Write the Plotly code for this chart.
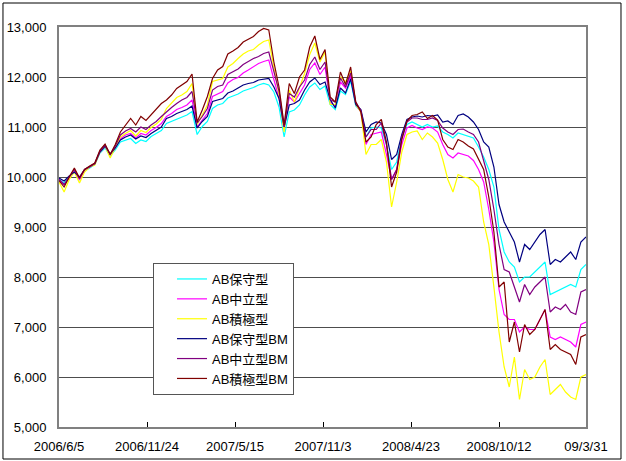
import pandas as pd
import plotly.graph_objects as go

# 10-day sampling dates, 2006/6/5 .. 2009/3/31
dates = pd.date_range("2006-06-05", periods=104, freq="10D")

tick_dates = ["2006-06-05", "2006-11-24", "2007-05-15", "2007-11-03",
              "2008-04-23", "2008-10-12", "2009-03-31"]
tick_labels = ["2006/6/5", "2006/11/24", "2007/5/15", "2007/11/3",
               "2008/4/23", "2008/10/12", "09/3/31"]
y_ticks = [5000, 6000, 7000, 8000, 9000, 10000, 11000, 12000, 13000]

names = ["AB保守型", "AB中立型", "AB積極型", "AB保守型BM", "AB中立型BM", "AB積極型BM"]
colors = ["#00FFFF", "#FF00FF", "#FFFF00", "#000080", "#800080", "#800000"]

ab_hoshu = [9950, 9880, 10000, 10100, 9950, 10120, 10180, 10250, 10480, 10580,
            10420, 10540, 10700, 10740, 10770, 10670, 10740, 10710, 10810, 10870,
            10930, 11070, 11110, 11150, 11190, 11240, 11310, 10850, 11010, 11110,
            11370, 11440, 11470, 11580, 11620, 11660, 11720, 11750, 11790, 11840,
            11870, 11840, 11700, 11400, 10800, 11300, 11340, 11440, 11640, 11800,
            11880, 11750, 11820, 11450, 11350, 11720, 11650, 11920, 11420, 11320,
            10800, 10980, 11000, 10980, 10650, 10150, 10300, 10780, 11050, 11100,
            11050, 11000, 11050, 11000, 11020, 10900, 10850, 10780, 10880, 10850,
            10820, 10780, 10600, 10400, 10150, 9800, 8950, 8500, 8300, 8200,
            7900, 8000, 8000, 8100, 8200, 8300, 7650, 7700, 7750, 7800,
            7850, 7800, 8150, 8250]
ab_churitsu = [9950, 9850, 9980, 10120, 9940, 10130, 10200, 10260, 10500, 10610,
               10440, 10580, 10760, 10840, 10870, 10780, 10870, 10840, 10930, 10990,
               11070, 11210, 11270, 11350, 11390, 11440, 11540, 11000, 11140, 11270,
               11610, 11660, 11710, 11880, 11950, 11990, 12080, 12140, 12200, 12270,
               12310, 12340, 11950, 11580, 10950, 11600, 11500, 11670, 11840, 12150,
               12280, 12050, 12200, 11500, 11420, 11900, 11780, 12020, 11450, 11300,
               10650, 10850, 10880, 10900, 10450, 9950, 10150, 10650, 10980, 11030,
               10980, 10950, 11000, 10980, 10900, 10650, 10450, 10380, 10480, 10450,
               10420, 10330, 10150, 9900, 9350, 8700, 7750, 7250, 7150, 7150,
               6900, 7000, 6950, 6950, 7150, 7350, 6800, 6750, 6800, 6750,
               6700, 6600, 7050, 7100]
ab_sekkyoku = [9900, 9700, 9950, 10100, 9880, 10100, 10200, 10240, 10500, 10620,
               10380, 10600, 10800, 10870, 10930, 10820, 10930, 10890, 10990, 11060,
               11150, 11370, 11470, 11590, 11640, 11710, 11870, 11050, 11240, 11440,
               11910, 11940, 11970, 12200, 12270, 12370, 12460, 12520, 12550, 12640,
               12710, 12740, 12200, 11640, 10900, 11740, 11500, 11800, 12070, 12450,
               12680, 12300, 12500, 11450, 11450, 12000, 11900, 12120, 11450, 11300,
               10450, 10650, 10650, 10750, 10300, 9400, 9900, 10500, 10850, 10900,
               10920, 10750, 10880, 10800, 10680, 10350, 9950, 9700, 10050, 10000,
               9980, 9920, 9800, 9100, 8650, 7800, 6900, 6200, 5800, 6400,
               5550, 6150, 5950, 6000, 6200, 6350, 5650, 5750, 5850, 5700,
               5600, 5550, 6000, 6050]
ab_hoshu_bm = [9980, 9920, 10020, 10100, 10000, 10150, 10210, 10270, 10500, 10620,
               10460, 10580, 10740, 10800, 10840, 10760, 10820, 10790, 10870, 10930,
               11000, 11170, 11210, 11270, 11310, 11350, 11420, 10980, 11110, 11210,
               11510, 11540, 11570, 11680, 11720, 11780, 11840, 11870, 11890, 11940,
               11960, 11970, 11800, 11570, 11000, 11440, 11470, 11540, 11740, 11900,
               11980, 11850, 11900, 11550, 11380, 11780, 11680, 11960, 11450, 11350,
               10900, 11050, 11100, 11080, 10850, 10350, 10450, 10850, 11150, 11200,
               11220, 11200, 11230, 11220, 11240, 11100, 11120, 11050, 11230, 11260,
               11200, 11100, 10950, 10700, 10600, 10200, 9450, 9100, 8900, 8700,
               8300, 8650, 8550, 8700, 8850, 8950, 8250, 8350, 8300, 8400,
               8500, 8350, 8700, 8800]
ab_churitsu_bm = [9950, 9850, 10000, 10150, 9970, 10150, 10200, 10270, 10520, 10640,
                  10450, 10620, 10840, 10920, 10970, 10900, 11000, 10950, 11040, 11110,
                  11210, 11310, 11390, 11470, 11540, 11590, 11710, 11080, 11210, 11370,
                  11740, 11810, 11840, 12050, 12100, 12160, 12250, 12310, 12370, 12410,
                  12470, 12500, 12100, 11720, 11000, 11670, 11600, 11800, 11940, 12250,
                  12400, 12150, 12300, 11550, 11500, 11980, 11800, 12080, 11500, 11330,
                  10800, 10950, 10950, 11080, 10650, 9950, 10150, 10800, 11100, 11180,
                  11180, 11150, 11150, 11180, 11130, 10980, 10900, 10850, 10950, 10960,
                  10900, 10850, 10700, 10300, 9950, 9350, 8650, 8150, 8100, 7800,
                  7500, 7850, 7650, 7800, 7900, 8000, 7300, 7400, 7350, 7450,
                  7300, 7250, 7700, 7750]
ab_sekkyoku_bm = [9930, 9800, 10000, 10180, 9980, 10150, 10220, 10280, 10540, 10660,
                  10450, 10650, 10900, 11040, 11170, 11040, 11210, 11130, 11240, 11340,
                  11470, 11540, 11640, 11770, 11840, 11910, 12060, 11100, 11340, 11610,
                  11970, 12140, 12210, 12460, 12520, 12590, 12700, 12760, 12810, 12910,
                  12970, 12940, 12300, 11800, 11040, 11870, 11670, 12000, 12140, 12600,
                  12820, 12350, 12550, 11600, 11500, 12100, 11850, 12200, 11500, 11300,
                  10700, 10800, 11050, 11150, 10700, 9800, 10100, 10750, 11120, 11230,
                  11250, 11300, 11170, 11230, 11140, 10750, 10600, 10550, 10750, 10700,
                  10620, 10560, 10350, 10150, 9600, 8900, 7800, 7900, 6700, 7100,
                  6500, 7050, 6850, 6950, 7150, 7350, 6550, 6650, 6550, 6500,
                  6450, 6250, 6800, 6850]

series = [ab_hoshu, ab_churitsu, ab_sekkyoku, ab_hoshu_bm, ab_churitsu_bm, ab_sekkyoku_bm]

fig = go.Figure()
for name, color, vals in zip(names, colors, series):
    fig.add_trace(go.Scatter(x=dates, y=vals, mode="lines", name=name,
                             line=dict(color=color, width=1.2)))

font_main = "Liberation Sans, Arial, Noto Sans CJK JP, sans-serif"

fig.update_layout(
    width=626, height=461,
    margin=dict(l=59, r=40, t=27, b=34, autoexpand=False),
    paper_bgcolor="white", plot_bgcolor="white",
    font=dict(family=font_main, size=13, color="#000000"),
    showlegend=True,
    legend=dict(
        x=0.1784, y=0.41, xanchor="left", yanchor="top",
        bgcolor="white", bordercolor="#555555", borderwidth=1,
        font=dict(family=font_main, size=13, color="#000000"),
        indentation=18, entrywidth=152, tracegroupgap=0,
    ),
    xaxis=dict(
        type="date", automargin=False,
        range=["2006-06-05", "2009-03-31"],
        tickmode="array", tickvals=tick_dates, ticktext=tick_labels,
        ticks="inside", ticklen=5, tickcolor="#000000", tickwidth=1,
        showgrid=False, zeroline=False,
        showline=True, linecolor="#808080", linewidth=1.5, mirror=True,
        ticklabelstandoff=7,
        tickfont=dict(size=13),
    ),
    yaxis=dict(
        automargin=False,
        range=[5000, 13000],
        tickmode="array", tickvals=y_ticks, tickformat=",",
        ticks="", showgrid=True, gridcolor="#4d4d4d", gridwidth=1,
        zeroline=False,
        showline=True, linecolor="#808080", linewidth=2, mirror=True,
        ticklabelstandoff=8,
        tickfont=dict(size=13),
    ),
    shapes=[dict(type="rect", xref="paper", yref="paper",
                 x0=-0.1063, x1=1.0664, y0=-0.08, y1=1.06,
                 line=dict(color="#000000", width=1), layer="below")],
)

fig.write_html("out.html", config={"displayModeBar": False},
               post_script="document.body.style.margin='0';document.body.style.padding='0';")
